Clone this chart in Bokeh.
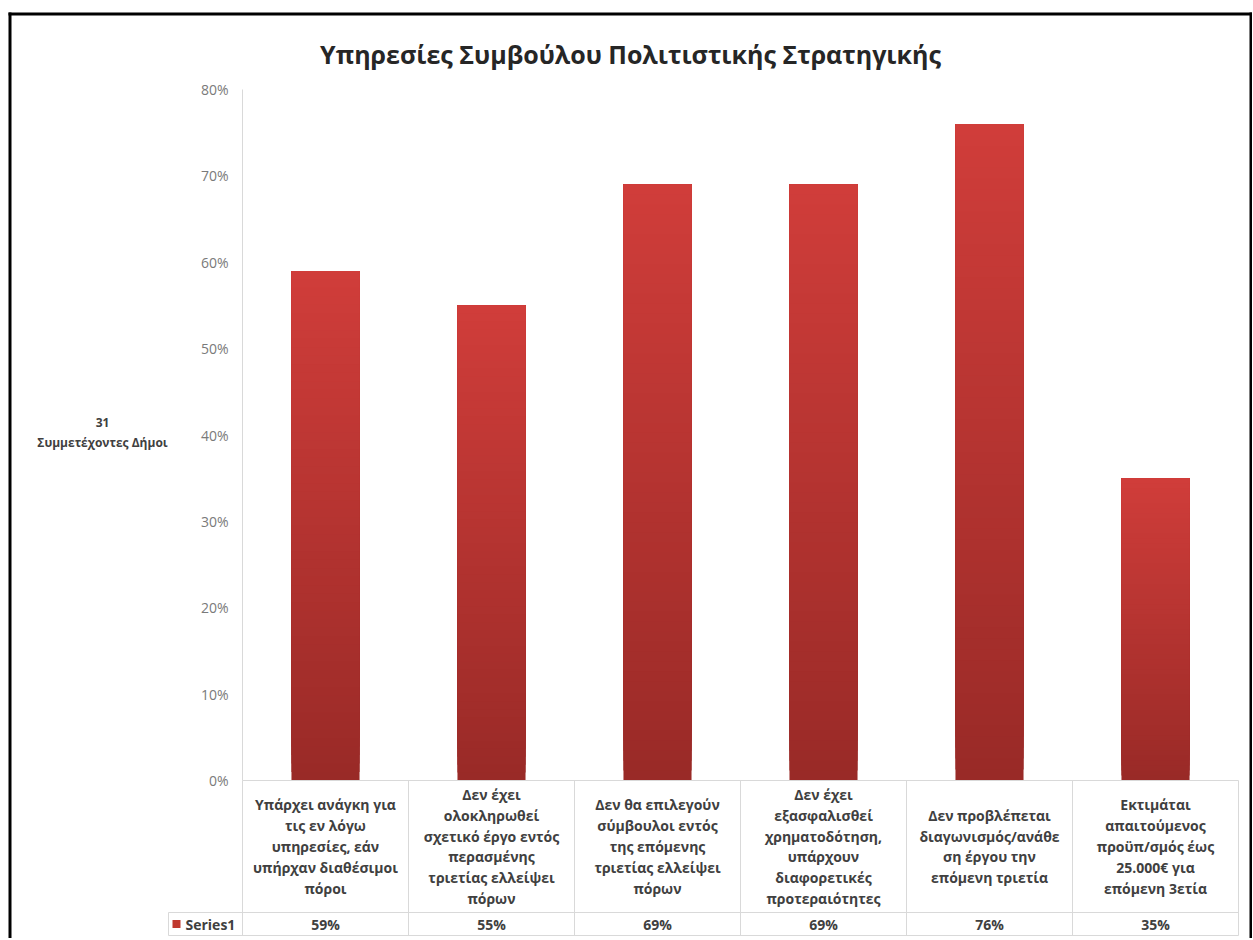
import numpy as np
from bokeh.plotting import figure
from bokeh.models import LinearAxis, FixedTicker, PrintfTickFormatter, Range1d
from bokeh.core.properties import value
from bokeh.embed import file_html
from bokeh.resources import INLINE

# ---------------- data ----------------
title_text = "Υπηρεσίες Συμβούλου Πολιτιστικής Στρατηγικής"
y_title = "31\nΣυμμετέχοντες Δήμοι"
series_name = "Series1"
categories = [
    "Υπάρχει ανάγκη για\nτις εν λόγω\nυπηρεσίες, εάν\nυπήρχαν διαθέσιμοι\nπόροι",
    "Δεν έχει\nολοκληρωθεί\nσχετικό έργο εντός\nπερασμένης\nτριετίας ελλείψει\nπόρων",
    "Δεν θα επιλεγούν\nσύμβουλοι εντός\nτης επόμενης\nτριετίας ελλείψει\nπόρων",
    "Δεν έχει\nεξασφαλισθεί\nχρηματοδότηση,\nυπάρχουν\nδιαφορετικές\nπροτεραιότητες",
    "Δεν προβλέπεται\nδιαγωνισμός/ανάθε\nση έργου την\nεπόμενη τριετία",
    "Εκτιμάται\nαπαιτούμενος\nπροϋπ/σμός έως\n25.000€ για\nεπόμενη 3ετία",
]
values = [59, 55, 69, 69, 76, 35]
y_ticks = [0, 10, 20, 30, 40, 50, 60, 70, 80]

# ---------------- layout helpers (page pixels -> data units) ----------------
W, H = 1252, 938
FONT = "Open Sans"
AX0, UX = 242.0, 166.0          # page x of category edge 0, pixels per category
Y0, UY = 780.0, 691.0 / 80.0    # page y of 0 %, pixels per percent


def dx(px):
    return (px - AX0) / UX


def dy(py):
    return (Y0 - py) / UY


x_range = Range1d(dx(0), dx(W))
y_range = Range1d(dy(H), dy(0))

p = figure(width=W, height=H, x_range=x_range, y_range=y_range,
           x_axis_type=None, y_axis_type=None, toolbar_location=None,
           output_backend="svg", min_border_left=0, min_border_right=0,
           min_border_top=0, min_border_bottom=0)
p.outline_line_color = None
p.background_fill_color = "white"
p.border_fill_color = "white"

n = len(categories)
centers = [i + 0.5 for i in range(n)]

# ---------------- chart border ----------------
p.segment(x0=[dx(9.5), dx(8), dx(1250.5)],
          y0=[dy(12), dy(13.5), dy(12)],
          x1=[dx(9.5), dx(1252), dx(1250.5)],
          y1=[dy(H + 5), dy(13.5), dy(H + 5)],
          line_color="black", line_width=3)

# ---------------- gradient bars ----------------
N = 60
c_bot = np.array([0x99, 0x2a, 0x27], dtype=float)
c_top = np.array([0xd0, 0x3d, 0x3a], dtype=float)
bx, bb, bt, bc = [], [], [], []
for xc, v in zip(centers, values):
    for k in range(N):
        f = (k + 0.5) / N
        c = c_bot + (c_top - c_bot) * f
        bx.append(xc)
        bb.append(v * k / N)
        bt.append(v)
        bc.append("#%02x%02x%02x" % tuple(int(round(t)) for t in c))
p.vbar(x=bx, bottom=bb, top=bt, width=0.41, fill_color=bc, line_color=None)

# ---------------- y axis ----------------
yax = LinearAxis(fixed_location=0, bounds=(0, 80),
                 ticker=FixedTicker(ticks=y_ticks),
                 formatter=PrintfTickFormatter(format="%d%%"))
yax.axis_line_color = "#d9d9d9"
yax.axis_line_width = 1
yax.major_tick_line_color = None
yax.minor_tick_line_color = None
yax.major_tick_out = 0
yax.major_tick_in = 0
yax.major_label_standoff = 14
yax.major_label_text_font = FONT
yax.major_label_text_font_size = "14px"
yax.major_label_text_color = "#7a7a7a"
p.add_layout(yax, "left")

# ---------------- data table ----------------
r1_bot = dy(912)
r2_bot = dy(935)
sl = dx(168)
grid_c = "#d9d9d9"
vx = list(range(n + 1))
p.segment(x0=vx, y0=[0] * (n + 1), x1=vx, y1=[r2_bot] * (n + 1),
          line_color=grid_c, line_width=1)
p.segment(x0=[0, sl, sl, sl], y0=[0, r1_bot, r2_bot, r1_bot],
          x1=[n, n, n, sl], y1=[0, r1_bot, r2_bot, r2_bot],
          line_color=grid_c, line_width=1)

TBL_FS = "14px"
p.text(x=centers, y=[r1_bot / 2] * n, text=categories,
       text_align="center", text_baseline="middle",
       text_font=value(FONT), text_font_size=TBL_FS, text_font_style="bold",
       text_color="#404040", text_line_height=1.1)
row2_mid = (r1_bot + r2_bot) / 2
p.text(x=centers, y=[row2_mid] * n,
       text=["%d%%" % v for v in values],
       text_align="center", text_baseline="middle",
       text_font=value(FONT), text_font_size=TBL_FS, text_font_style="bold",
       text_color="#404040")
p.scatter(x=[dx(176)], y=[row2_mid], marker="square", size=8,
          fill_color="#c0392f", line_color=None)
p.text(x=[dx(185)], y=[row2_mid], text=[series_name],
       text_align="left", text_baseline="middle",
       text_font=value(FONT), text_font_size=TBL_FS, text_font_style="bold",
       text_color="#404040")

# ---------------- titles ----------------
p.text(x=[dx(630)], y=[dy(53)], text=[title_text],
       text_align="center", text_baseline="middle",
       text_font=value(FONT), text_font_size="25px", text_font_style="bold",
       text_color="#262626")
p.text(x=[dx(102)], y=[dy(432)], text=[y_title],
       text_align="center", text_baseline="middle",
       text_font=value(FONT), text_font_size="12px", text_font_style="bold",
       text_color="#404040", text_line_height=1.16)

open("out.html", "w").write(file_html(p, INLINE))
